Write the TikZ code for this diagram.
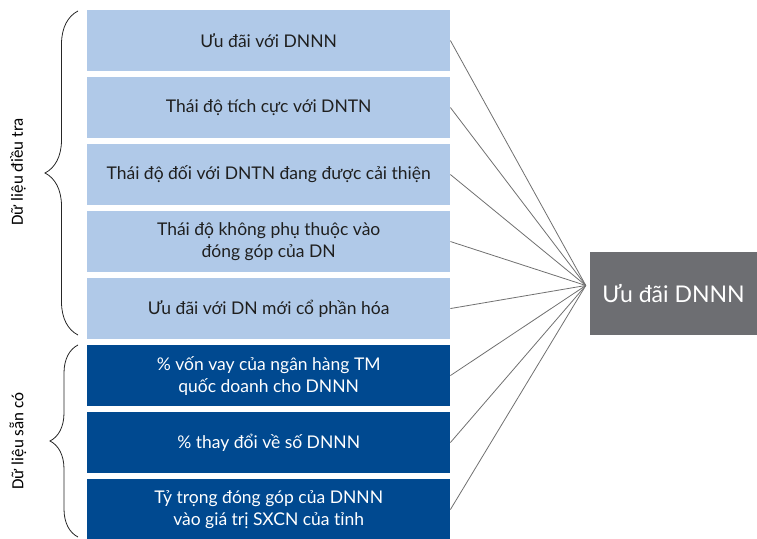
\documentclass[tikz,border=0pt]{standalone}
\usepackage{fontspec}
\setmainfont{Lato}
\newfontfamily\nhanfont{Carlito}
\usetikzlibrary{matrix}
\usetikzlibrary{decorations.pathreplacing}
\definecolor{nhat}{RGB}{176,201,232}
\definecolor{dam}{RGB}{0,73,144}
\definecolor{xam}{RGB}{109,110,114}
\definecolor{duong}{RGB}{112,112,112}
\tikzstyle{hop} = [minimum width=363pt, minimum height=60.3pt, inner sep=0pt, text centered, align=center, font=\fontsize{17.5}{22}\selectfont]
\tikzstyle{dieutra} = [hop, fill=nhat, text=black!88]
\tikzstyle{sanco} = [hop, fill=dam, text=white]
\tikzstyle{noi} = [draw=duong, line width=0.8pt]
\tikzstyle{ngoac} = [draw=black!85, line width=0.8pt, decorate]
\begin{document}
\begin{tikzpicture}[x=1pt, y=1pt]
    \useasboundingbox (0,0) rectangle (757,538);
    \matrix[row sep=6.5pt, inner sep=0pt, anchor=north west] at (87,528) {
        \node[dieutra](11){Ưu đãi với DNNN}; \\
        \node[dieutra](21){Thái độ tích cực với DNTN}; \\
        \node[dieutra](31){Thái độ đối với DNTN đang được cải thiện}; \\
        \node[dieutra](41){Thái độ không phụ thuộc vào\\đóng góp của DN}; \\
        \node[dieutra](51){Ưu đãi với DN mới cổ phần hóa}; \\
        \node[sanco](61){\% vốn vay của ngân hàng TM\\quốc doanh cho DNNN}; \\
        \node[sanco](71){\% thay đổi về số DNNN}; \\
        \node[sanco](81){Tỷ trọng đóng góp của DNNN\\vào giá trị SXCN của tỉnh}; \\
        };

    \node[fill=xam, text=white, minimum width=167pt, minimum height=83pt, inner sep=0pt,
          font=\fontsize{23}{27}\selectfont](ud) at (673.5,244.5){Ưu đãi DNNN};
    \coordinate (hub) at ([xshift=-4pt, yshift=8pt]ud.west);

    \foreach \n in {11,21,31,41,51,61,71,81}
        \draw[noi] (\n.east) -- (hub);

    % hai ngoac ben trai
    \coordinate (t1) at (78,203);
    \coordinate (t2) at (78,527);
    \coordinate (s1) at (78,1);
    \coordinate (s2) at (78,193);
    \draw[ngoac, decoration={brace, amplitude=33pt}] (t1) -- (t2);
    \draw[ngoac, decoration={brace, amplitude=28pt}] (s1) -- (s2);
    \node[rotate=90, font=\nhanfont\fontsize{17}{19}\selectfont](dt) at (18,366){Dữ liệu điều tra};
    \node[rotate=90, font=\nhanfont\fontsize{17}{19}\selectfont](sc) at (18,97){Dữ liệu sẵn có};
\end{tikzpicture}
\end{document}
